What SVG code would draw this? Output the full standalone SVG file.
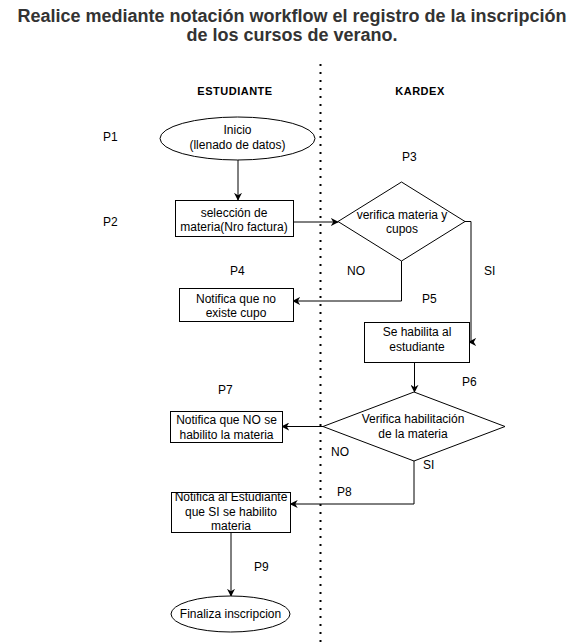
<svg xmlns="http://www.w3.org/2000/svg" width="581" height="643" viewBox="0 0 581 643">
<defs>
<marker id="arr" viewBox="0 0 10 10" refX="9" refY="5" markerWidth="8" markerHeight="8" markerUnits="userSpaceOnUse" orient="auto">
<path d="M0,0 L10,5 L0,10 L3,5 z" fill="#000"/>
</marker>
<style>
text{font-family:"Liberation Sans",Arial,sans-serif;font-size:12px;fill:#000}
.t{text-anchor:middle}
.title{font-size:18px;font-weight:bold;fill:#333;text-anchor:middle}
.lane{font-size:11px;font-weight:bold;text-anchor:middle;letter-spacing:0.5px}
.shape{fill:#fff;stroke:#000;stroke-width:1}
.edge{fill:none;stroke:#000;stroke-width:1;marker-end:url(#arr)}
</style>
</defs>
<rect width="581" height="643" fill="#fff"/>
<g id="title">
<text class="title" x="292" y="22">Realice mediante notación workflow el registro de la inscripción</text>
<text class="title" x="292" y="41">de los cursos de verano.</text>
</g>
<g id="lanes">
<line x1="320.5" y1="64" x2="320.5" y2="643" stroke="#000" stroke-width="2" stroke-dasharray="2 6"/>
<text class="lane" x="235" y="95">ESTUDIANTE</text>
<text class="lane" x="420" y="95">KARDEX</text>
</g>
<g id="labels">
<text x="103" y="141">P1</text>
<text x="103" y="226">P2</text>
<text x="402" y="161">P3</text>
<text x="230" y="275">P4</text>
<text x="347" y="275">NO</text>
<text x="484" y="275">SI</text>
<text x="422" y="303">P5</text>
<text x="462" y="386">P6</text>
<text x="218" y="394">P7</text>
<text x="331" y="456">NO</text>
<text x="423" y="469">SI</text>
<text x="337" y="496">P8</text>
<text x="254" y="571">P9</text>
</g>
<g id="connectors">
<line class="edge" x1="238" y1="160" x2="238" y2="200"/>
<line class="edge" x1="293" y1="222" x2="338" y2="222"/>
<path class="edge" d="M401.5,261 V301 H293"/>
<path class="edge" d="M465,221.5 H471 V342 H469"/>
<line class="edge" x1="414.5" y1="362" x2="414.5" y2="392"/>
<line class="edge" x1="323" y1="426.5" x2="282" y2="426.5"/>
<path class="edge" d="M414,461 V504 H290.5"/>
<line class="edge" x1="231" y1="532" x2="231" y2="596"/>
</g>
<g id="n1">
<ellipse class="shape" cx="237.5" cy="138.5" rx="77.5" ry="21.5"/>
<text class="t" x="237.5" y="134">Inicio</text>
<text class="t" x="237.5" y="149">(llenado de datos)</text>
</g>
<g id="n2">
<rect class="shape" x="175.5" y="200.5" width="118" height="36"/>
<text class="t" x="234" y="217">selección de</text>
<text class="t" x="234" y="231">materia(Nro factura)</text>
</g>
<g id="n3">
<polygon class="shape" points="401.5,182 465,221.5 401.5,261 338,221.5"/>
<text class="t" x="402" y="219">verifica materia y</text>
<text class="t" x="402" y="233">cupos</text>
</g>
<g id="n4">
<rect class="shape" x="179.5" y="288.5" width="114" height="33"/>
<text class="t" x="236" y="303">Notifica que no</text>
<text class="t" x="236" y="317">existe cupo</text>
</g>
<g id="n5">
<rect class="shape" x="364.5" y="322.5" width="105" height="40"/>
<text class="t" x="417" y="336">Se habilita al</text>
<text class="t" x="417" y="351">estudiante</text>
</g>
<g id="n6">
<polygon class="shape" points="414,392 505,426.5 414,461 323,426.5"/>
<text class="t" x="413" y="423">Verifica habilitación</text>
<text class="t" x="413" y="438">de la materia</text>
</g>
<g id="n7">
<rect class="shape" x="170.5" y="411.5" width="112" height="31"/>
<text class="t" x="226.5" y="424">Notifica que NO se</text>
<text class="t" x="226.5" y="439">habilito la materia</text>
</g>
<g id="n8">
<rect class="shape" x="171.5" y="492.5" width="119" height="40"/>
<text class="t" x="231" y="501">Notifica al Estudiante</text>
<text class="t" x="231" y="516">que SI se habilito</text>
<text class="t" x="231" y="530">materia</text>
</g>
<g id="n9">
<ellipse class="shape" cx="230.5" cy="614" rx="59.5" ry="18"/>
<text class="t" x="230.5" y="618">Finaliza inscripcion</text>
</g>
</svg>
